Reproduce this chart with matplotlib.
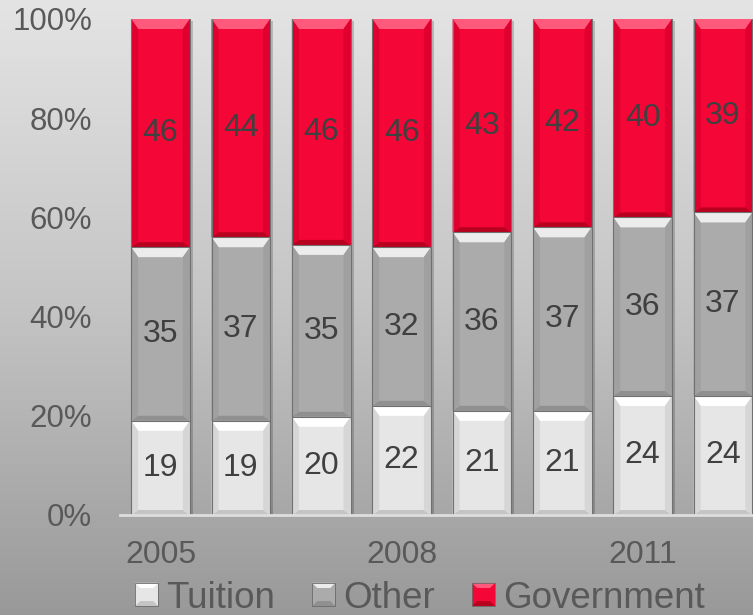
import matplotlib.pyplot as plt
import numpy as np
from matplotlib.patches import Polygon, Rectangle
from matplotlib.colors import LinearSegmentedColormap
from matplotlib.legend_handler import HandlerPatch

years = [2005, 2006, 2007, 2008, 2009, 2010, 2011, 2012]
tuition = [19, 19, 20, 22, 21, 21, 24, 24]
other = [35, 37, 35, 32, 36, 37, 36, 37]
government = [46, 44, 46, 46, 43, 42, 40, 39]
series_names = ['Tuition', 'Other', 'Government']
year_labels = ['2005', '2008', '2011']

# face, top bevel, side bevel, bottom bevel
styles = {
    'Tuition': ('#e6e6e6', '#ffffff', '#d6d6d6', '#c4c4c4'),
    'Other': ('#ababab', '#ececec', '#a0a0a0', '#909090'),
    'Government': ('#f40636', '#ff5a7c', '#e0002f', '#b8001f'),
}

plt.rcParams['font.family'] = ['Liberation Sans', 'DejaVu Sans']
txt_col = '#595959'

fig = plt.figure(figsize=(7.53, 6.15), dpi=100)

# vertical grey gradient behind everything
bg = fig.add_axes([0, 0, 1, 1], zorder=-5)
grad = np.linspace(0, 1, 256).reshape(-1, 1)
cmap = LinearSegmentedColormap.from_list('bg', ['#e4e4e4', '#c4c4c4', '#999999'])
bg.imshow(grad, aspect='auto', cmap=cmap, extent=[0, 1, 0, 1])
bg.axis('off')

W, H = 753, 615
ax = fig.add_axes([120 / W, 100 / H, 633 / W, 496 / H])
ax.patch.set_alpha(0)
ax.set_xlim(-0.504, 7.373)
ax.set_ylim(0, 100)

x = np.arange(len(years))
data = np.array([tuition, other, government], dtype=float)
pct = data / data.sum(axis=0) * 100
width = 0.73

# pixel -> data unit conversions for bevels and shadows
px_x = 1 / (ax.transData.transform((1, 0))[0] - ax.transData.transform((0, 0))[0])
px_y = 1 / (ax.transData.transform((0, 1))[1] - ax.transData.transform((0, 0))[1])

# soft shadow to the right of each column
for xi in x:
    ax.add_patch(Rectangle((xi - width / 2 + 3 * px_x, -2 * px_y), width, 100,
                           color='black', alpha=0.18, lw=0, zorder=1))


def bevel(x0, y0, w, h, cols, bx=7, by=5, top=10):
    face, light, side, dark = cols
    x1, y1 = x0 + w, y0 + h
    dx, dy, dt = bx * px_x, by * px_y, top * px_y
    polys = [
        ([(x0, y1), (x1, y1), (x1 - dx, y1 - dt), (x0 + dx, y1 - dt)], light),
        ([(x0, y0), (x1, y0), (x1 - dx, y0 + dy), (x0 + dx, y0 + dy)], dark),
        ([(x0, y0), (x0 + dx, y0 + dy), (x0 + dx, y1 - dt), (x0, y1)], side),
        ([(x1, y0), (x1 - dx, y0 + dy), (x1 - dx, y1 - dt), (x1, y1)], side),
    ]
    for pts, c in polys:
        ax.add_patch(Polygon(pts, closed=True, color=c, lw=0, zorder=3))
    ax.plot([x0, x0, x1, x1], [y1, y0, y0, y1], color='#707070', lw=0.8, zorder=4)


bottom = np.zeros(len(years))
for name, raw, vals in zip(series_names, data, pct):
    cols = styles[name]
    bars = ax.bar(x, vals, width, bottom=bottom, color=cols[0], lw=0, zorder=2, label=name)
    for rect, v, r in zip(bars, vals, raw):
        bevel(rect.get_x(), rect.get_y(), rect.get_width(), rect.get_height(), cols)
        ax.text(rect.get_x() + rect.get_width() / 2, rect.get_y() + v / 2, f'{int(r)}',
                ha='center', va='center', fontsize=23, color='#404040', zorder=5)
    bottom += vals

ax.set_yticks(np.arange(0, 101, 20))
ax.set_yticklabels([f'{t}%' for t in range(0, 101, 20)])
ax.set_xticks([0, 3, 6])
ax.set_xticklabels(year_labels)
ax.tick_params(axis='y', length=0, pad=20, labelsize=22.5, labelcolor=txt_col)
ax.tick_params(axis='x', length=0, pad=18, labelsize=23, labelcolor=txt_col)
for s in ['top', 'right', 'left']:
    ax.spines[s].set_visible(False)
ax.spines['bottom'].set_color('#dedede')
ax.spines['bottom'].set_linewidth(2)
ax.spines['bottom'].set_zorder(6)


class BevelSquare(HandlerPatch):
    def create_artists(self, legend, orig_handle, xdescent, ydescent, width, height, fontsize, trans):
        cols = styles[orig_handle.get_label()]
        s = height
        x0, y0 = -xdescent, -ydescent
        b = s * 0.22
        arts = [Rectangle((x0, y0), s, s, color=cols[0], lw=0)]
        arts.append(Polygon([(x0, y0 + s), (x0 + s, y0 + s), (x0 + s - b, y0 + s - b), (x0 + b, y0 + s - b)], color=cols[1], lw=0))
        arts.append(Polygon([(x0, y0), (x0 + s, y0), (x0 + s - b, y0 + b), (x0 + b, y0 + b)], color=cols[3], lw=0))
        arts.append(Rectangle((x0, y0), s, s, fill=False, ec='#6a6a6a', lw=0.6))
        for a in arts:
            a.set_transform(trans)
        return arts


handles, labels = ax.get_legend_handles_labels()
leg = fig.legend(handles, labels, loc='center', bbox_to_anchor=(420 / W, 17 / H), ncol=3,
                 frameon=False, fontsize=26.5, labelcolor=txt_col, handlelength=0.6,
                 handleheight=0.6, handletextpad=0.25, columnspacing=1.0, borderpad=0,
                 handler_map={h: BevelSquare() for h in handles})

fig.savefig('out.png', dpi=100)
